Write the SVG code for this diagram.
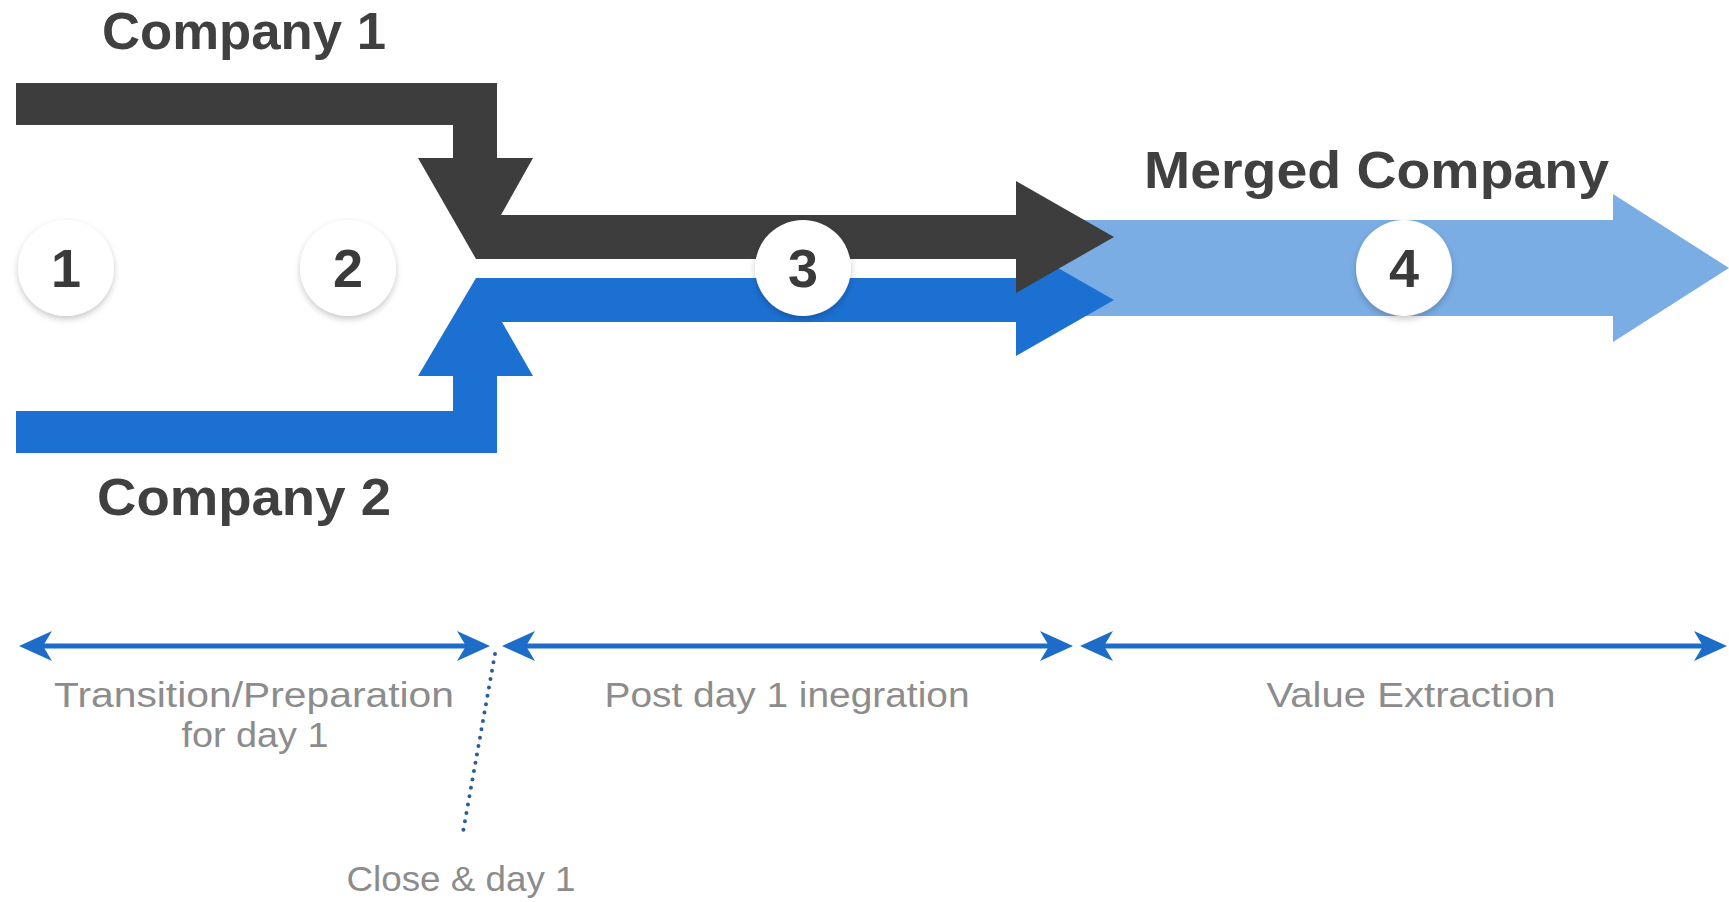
<svg xmlns="http://www.w3.org/2000/svg" width="1729" height="902" viewBox="0 0 1729 902">
<style>
.title{font-family:"Liberation Sans",Arial,sans-serif;font-weight:bold;font-size:52px;fill:#404040}
.num{font-family:"Liberation Sans",Arial,sans-serif;font-weight:bold;font-size:54px;fill:#3a3a3a;text-anchor:middle}
.lbl{font-family:"Liberation Sans",Arial,sans-serif;font-size:35px;fill:#8c8c8c;text-anchor:middle}
.circ{fill:#ffffff;filter:url(#sh)}
.tl{stroke:#1d6cc7;stroke-width:5;fill:none;marker-start:url(#ah);marker-end:url(#ah)}
</style>
<defs>
<filter id="sh" x="-30%" y="-30%" width="160%" height="170%">
<feDropShadow dx="0" dy="3" stdDeviation="3" flood-color="#000" flood-opacity="0.22"/>
</filter>
<marker id="ah" markerUnits="userSpaceOnUse" orient="auto-start-reverse" refX="0" refY="0" markerWidth="40" markerHeight="30" viewBox="-10 -15 40 30" overflow="visible">
<path d="M24,0 L-9,-15 L0,0 L-9,15 Z" fill="#1d6cc7"/>
</marker>
</defs>
<g id="merged-arrow">
<polygon points="1040,220 1613,220 1613,194 1729,268 1613,342 1613,316 1040,316" fill="#7aade4"/>
</g>
<g id="company2-arrow">
<polygon points="16,453 497,453 497,376 533,376 502,322 1016,322 1016,356 1114,300 1016,244 1016,278 476,278 418,376 453,376 453,411 16,411" fill="#1c70d2"/>
</g>
<g id="company1-arrow">
<polygon points="16,83 497,83 497,158 533,158 501,215 1016,215 1016,181 1114,237 1016,293 1016,259 476,259 418,158 453,158 453,125 16,125" fill="#3d3d3d"/>
</g>
<g id="company1-label"><text class="title" x="102" y="49" textLength="284" lengthAdjust="spacingAndGlyphs">Company 1</text></g>
<g id="company2-label"><text class="title" x="97" y="515" textLength="294" lengthAdjust="spacingAndGlyphs">Company 2</text></g>
<g id="merged-label"><text class="title" x="1144" y="188" textLength="465" lengthAdjust="spacingAndGlyphs">Merged Company</text></g>
<g id="step1"><circle class="circ" cx="66" cy="268" r="48"/><text class="num" x="66" y="287">1</text></g>
<g id="step2"><circle class="circ" cx="348" cy="268" r="48"/><text class="num" x="348" y="287">2</text></g>
<g id="step3"><circle class="circ" cx="803" cy="268" r="48"/><text class="num" x="803" y="287">3</text></g>
<g id="step4"><circle class="circ" cx="1404" cy="268" r="48"/><text class="num" x="1404" y="287">4</text></g>
<g id="connectors">
<line class="tl" x1="43" y1="646" x2="466" y2="646"/>
<line class="tl" x1="526" y1="646" x2="1049" y2="646"/>
<line class="tl" x1="1104" y1="646" x2="1703" y2="646"/>
<line x1="495" y1="654" x2="463" y2="832" stroke="#2b5c9e" stroke-width="4" stroke-linecap="round" stroke-dasharray="0 8.5"/>
</g>
<g id="phase1-label"><text class="lbl" x="254" y="707" textLength="400" lengthAdjust="spacingAndGlyphs">Transition/Preparation</text><text class="lbl" x="255" y="747" textLength="147" lengthAdjust="spacingAndGlyphs">for day 1</text></g>
<g id="phase2-label"><text class="lbl" x="787" y="707" textLength="365" lengthAdjust="spacingAndGlyphs">Post day 1 inegration</text></g>
<g id="phase3-label"><text class="lbl" x="1411" y="707" textLength="289" lengthAdjust="spacingAndGlyphs">Value Extraction</text></g>
<g id="close-label"><text class="lbl" x="461" y="891" textLength="229" lengthAdjust="spacingAndGlyphs">Close &amp; day 1</text></g>
</svg>
